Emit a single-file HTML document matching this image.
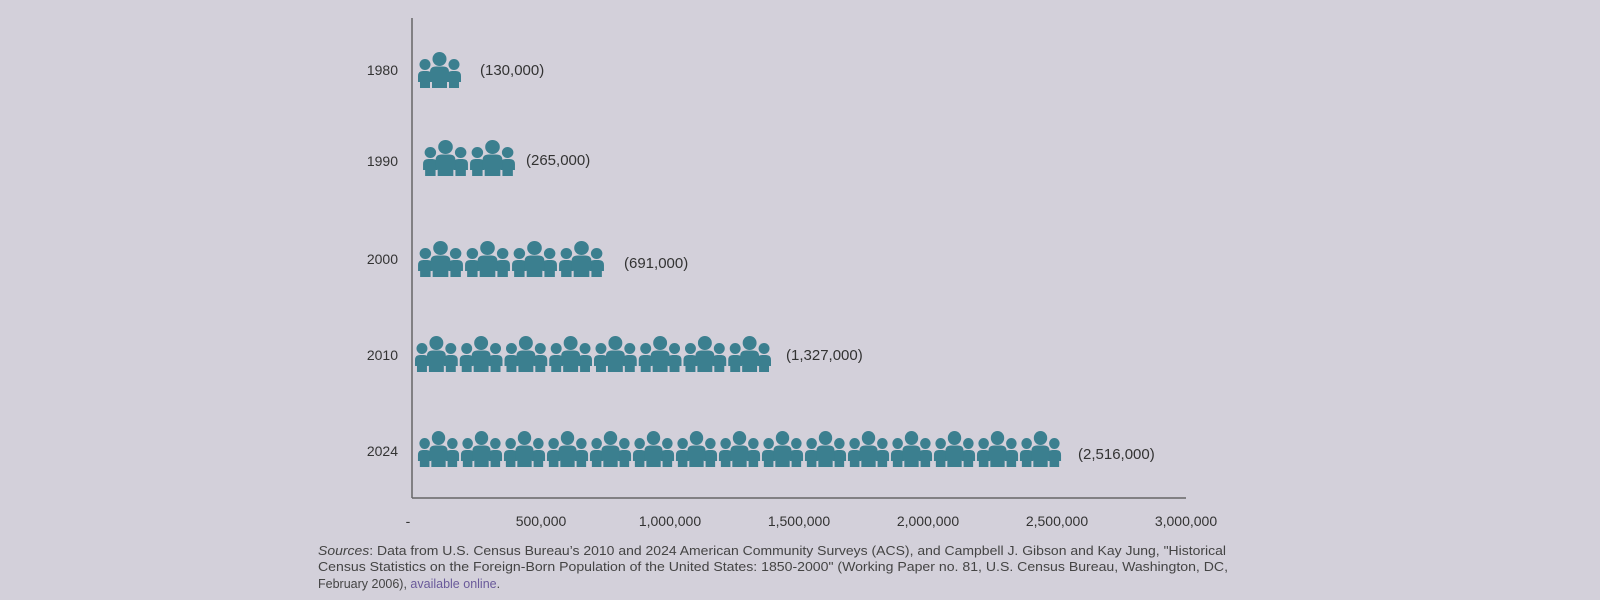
<!DOCTYPE html>
<html><head><meta charset="utf-8"><style>
html,body{margin:0;padding:0;background:#d3d0da;}
body{width:1600px;height:600px;overflow:hidden;position:relative;font-family:"Liberation Sans",sans-serif;}
</style></head><body>
<svg width="1600" height="600" style="position:absolute;left:0;top:0" font-family="Liberation Sans, sans-serif">
<defs>
<symbol id="g" viewBox="0 0 45 36" preserveAspectRatio="none">
<g fill="#3b7f8f">
<circle cx="8" cy="12.5" r="5.5"/>
<path d="M1,24 Q1,19 6,19 L10,19 Q15,19 15,24 L15,30 L13,30 L13,36 L3,36 L3,30 L1,30 Z"/>
<circle cx="37" cy="12.5" r="5.5"/>
<path d="M30,24 Q30,19 35,19 L39,19 Q44,19 44,24 L44,30 L42,30 L42,36 L32,36 L32,30 L30,30 Z"/>
<circle cx="22.5" cy="7" r="7"/>
<path d="M13,20 Q13,14.5 19,14.5 L26,14.5 Q32,14.5 32,20 L32,29 L30,29 L30,36 L15,36 L15,29 L13,29 Z"/>
</g>
</symbol>
</defs>
<line x1="412" y1="18" x2="412" y2="498" stroke="#666" stroke-width="1.5"/>
<line x1="412" y1="498" x2="1186" y2="498" stroke="#666" stroke-width="1.5"/>
<g font-size="14" fill="#333" text-anchor="end">
<text x="398" y="75">1980</text>
<text x="398" y="166">1990</text>
<text x="398" y="264">2000</text>
<text x="398" y="360">2010</text>
<text x="398" y="456">2024</text>
</g>
<g font-size="14" fill="#333" text-anchor="middle">
<text x="408" y="526">-</text>
<text x="541" y="526">500,000</text>
<text x="670" y="526">1,000,000</text>
<text x="799" y="526">1,500,000</text>
<text x="928" y="526">2,000,000</text>
<text x="1057" y="526">2,500,000</text>
<text x="1186" y="526">3,000,000</text>
</g>
<g font-size="15" fill="#333">
<text x="480" y="75">(130,000)</text>
<text x="526" y="165">(265,000)</text>
<text x="624" y="268">(691,000)</text>
<text x="786" y="360">(1,327,000)</text>
<text x="1078" y="459">(2,516,000)</text>
</g>
<use href="#g" x="417" y="52" width="45" height="36"/>
<use href="#g" x="422" y="140" width="47" height="36"/><use href="#g" x="469" y="140" width="47" height="36"/>
<use href="#g" x="417" y="241" width="47" height="36"/><use href="#g" x="464" y="241" width="47" height="36"/><use href="#g" x="511" y="241" width="47" height="36"/><use href="#g" x="558" y="241" width="47" height="36"/>
<use href="#g" x="414" y="336" width="44.75" height="36"/><use href="#g" x="458.75" y="336" width="44.75" height="36"/><use href="#g" x="503.5" y="336" width="44.75" height="36"/><use href="#g" x="548.25" y="336" width="44.75" height="36"/><use href="#g" x="593" y="336" width="44.75" height="36"/><use href="#g" x="637.75" y="336" width="44.75" height="36"/><use href="#g" x="682.5" y="336" width="44.75" height="36"/><use href="#g" x="727.25" y="336" width="44.75" height="36"/>
<use href="#g" x="417" y="431" width="43" height="36"/><use href="#g" x="460" y="431" width="43" height="36"/><use href="#g" x="503" y="431" width="43" height="36"/><use href="#g" x="546" y="431" width="43" height="36"/><use href="#g" x="589" y="431" width="43" height="36"/><use href="#g" x="632" y="431" width="43" height="36"/><use href="#g" x="675" y="431" width="43" height="36"/><use href="#g" x="718" y="431" width="43" height="36"/><use href="#g" x="761" y="431" width="43" height="36"/><use href="#g" x="804" y="431" width="43" height="36"/><use href="#g" x="847" y="431" width="43" height="36"/><use href="#g" x="890" y="431" width="43" height="36"/><use href="#g" x="933" y="431" width="43" height="36"/><use href="#g" x="976" y="431" width="43" height="36"/><use href="#g" x="1019" y="431" width="43" height="36"/>
<g font-size="12.5" fill="#444">
<text x="318" y="555" textLength="908" lengthAdjust="spacingAndGlyphs"><tspan font-style="italic">Sources</tspan>: Data from U.S. Census Bureau’s 2010 and 2024 American Community Surveys (ACS), and Campbell J. Gibson and Kay Jung, "Historical</text>
<text x="318" y="571" textLength="910" lengthAdjust="spacingAndGlyphs">Census Statistics on the Foreign-Born Population of the United States: 1850-2000" (Working Paper no. 81, U.S. Census Bureau, Washington, DC,</text>
<text x="318" y="588">February 2006), <tspan fill="#6a5a9a">available online</tspan>.</text>
</g>
</svg>
</body></html>
